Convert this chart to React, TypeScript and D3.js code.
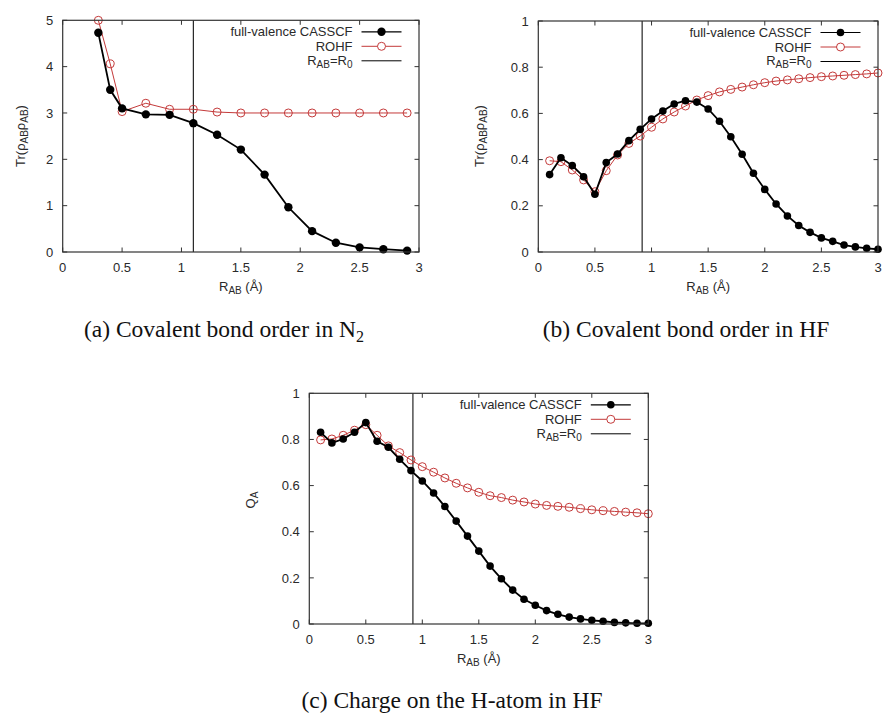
import React from 'react';
import * as d3 from 'd3';

const xTicks = [0, 0.5, 1, 1.5, 2, 2.5, 3];
const yTicksN2 = [0, 1, 2, 3, 4, 5];
const yTicksFrac = [0, 0.2, 0.4, 0.6, 0.8, 1];

const rN2 = [0.3, 0.4, 0.5, 0.7, 0.9, 1.1, 1.3, 1.5, 1.7, 1.9, 2.1, 2.3, 2.5, 2.7, 2.9];
const n2Casscf = [4.73, 3.5, 3.1, 2.97, 2.96, 2.78, 2.53, 2.21, 1.67, 0.965, 0.45, 0.2, 0.1, 0.06, 0.03];
const n2Rohf = [5.0, 4.06, 3.03, 3.21, 3.08, 3.08, 3.02, 3.0, 3.0, 3.0, 3.0, 3.0, 3.0, 3.0, 3.0];
const r0N2 = 1.1;

const rHF = [0.1, 0.2, 0.3, 0.4, 0.5, 0.6, 0.7, 0.8, 0.9, 1.0, 1.1, 1.2, 1.3, 1.4, 1.5, 1.6, 1.7, 1.8, 1.9, 2.0, 2.1, 2.2, 2.3, 2.4, 2.5, 2.6, 2.7, 2.8, 2.9, 3.0];
const hfBondCasscf = [0.335, 0.408, 0.374, 0.326, 0.25, 0.387, 0.424, 0.482, 0.531, 0.576, 0.61, 0.641, 0.655, 0.649, 0.619, 0.566, 0.499, 0.423, 0.341, 0.271, 0.208, 0.156, 0.115, 0.085, 0.061, 0.046, 0.03, 0.022, 0.016, 0.012];
const hfBondRohf = [0.395, 0.391, 0.355, 0.312, 0.261, 0.352, 0.42, 0.47, 0.502, 0.54, 0.576, 0.606, 0.632, 0.658, 0.677, 0.693, 0.704, 0.714, 0.724, 0.733, 0.74, 0.745, 0.75, 0.755, 0.759, 0.762, 0.765, 0.768, 0.771, 0.775];
const hfChargeCasscf = [0.831, 0.785, 0.802, 0.831, 0.873, 0.792, 0.766, 0.714, 0.665, 0.62, 0.568, 0.509, 0.446, 0.381, 0.316, 0.251, 0.196, 0.147, 0.107, 0.081, 0.058, 0.042, 0.03, 0.022, 0.016, 0.012, 0.007, 0.005, 0.003, 0.003];
const hfChargeRohf = [0.798, 0.802, 0.818, 0.84, 0.864, 0.818, 0.772, 0.743, 0.711, 0.682, 0.658, 0.633, 0.61, 0.59, 0.571, 0.556, 0.548, 0.537, 0.529, 0.52, 0.514, 0.51, 0.506, 0.5, 0.495, 0.491, 0.488, 0.485, 0.482, 0.478];
const r0HF = 0.917;

const legendLabels = ['full-valence CASSCF', 'ROHF'];

const SANS = '"Liberation Sans", Arial, Helvetica, sans-serif';
const SERIF = '"Liberation Serif", "Times New Roman", serif';
const TEXT = '#2a2a2a';
const FRAME = '#333';
const RED = '#c43a3a';

type PanelProps = {
  left: number; right: number; top: number; bottom: number;
  yMax: number; yTicks: number[];
  xs: number[]; cas: number[]; rohf: number[]; r0: number;
  yLabel: React.ReactNode; yLabelX: number; yLabelY: number;
  casR: number;
};

function Panel(p: PanelProps) {
  const x = d3.scaleLinear().domain([0, 3]).range([p.left, p.right]);
  const y = d3.scaleLinear().domain([0, p.yMax]).range([p.bottom, p.top]);
  const line = d3.line<number>().x((_, i) => x(p.xs[i])).y((d) => y(d));
  const tk = 4.5;
  const legRows = [p.top + 11.5, p.top + 26, p.top + 40.5];
  const lx1 = p.right - 57.5;
  const lx2 = p.right - 17.5;
  const lmid = (lx1 + lx2) / 2;
  const tx = p.right - 66.5;
  return (
    <g>
      {xTicks.map((t) => (
        <g key={'x' + t}>
          <line x1={x(t)} x2={x(t)} y1={p.bottom} y2={p.bottom - tk} stroke={FRAME} strokeWidth={1} />
          <line x1={x(t)} x2={x(t)} y1={p.top} y2={p.top + tk} stroke={FRAME} strokeWidth={1} />
          <text x={x(t)} y={p.bottom + 19.5} textAnchor="middle" fontFamily={SANS} fontSize={13} fill={TEXT}>{String(t)}</text>
        </g>
      ))}
      {p.yTicks.map((t) => (
        <g key={'y' + t}>
          <line x1={p.left} x2={p.left + tk} y1={y(t)} y2={y(t)} stroke={FRAME} strokeWidth={1} />
          <line x1={p.right} x2={p.right - tk} y1={y(t)} y2={y(t)} stroke={FRAME} strokeWidth={1} />
          <text x={p.left - 9.5} y={y(t)} dy="0.36em" textAnchor="end" fontFamily={SANS} fontSize={13} fill={TEXT}>{String(t)}</text>
        </g>
      ))}
      <line x1={x(p.r0)} x2={x(p.r0)} y1={p.top} y2={p.bottom} stroke="#111" strokeWidth={1.1} />
      <path d={line(p.rohf) || ''} fill="none" stroke={RED} strokeWidth={1} />
      {p.rohf.map((v, i) => (
        <circle key={'r' + i} cx={x(p.xs[i])} cy={y(v)} r={4} fill="none" stroke={RED} strokeWidth={1} />
      ))}
      <path d={line(p.cas) || ''} fill="none" stroke="#000" strokeWidth={1.8} />
      {p.cas.map((v, i) => (
        <circle key={'c' + i} cx={x(p.xs[i])} cy={y(v)} r={p.casR} fill="#000" />
      ))}
      <rect x={p.left} y={p.top} width={p.right - p.left} height={p.bottom - p.top} fill="none" stroke={FRAME} strokeWidth={1.2} />
      <text x={tx} y={legRows[0]} dy="0.36em" textAnchor="end" fontFamily={SANS} fontSize={13} fill={TEXT}>{legendLabels[0]}</text>
      <line x1={lx1} x2={lx2} y1={legRows[0]} y2={legRows[0]} stroke="#000" strokeWidth={1.2} />
      <circle cx={lmid} cy={legRows[0]} r={p.casR} fill="#000" />
      <text x={tx} y={legRows[1]} dy="0.36em" textAnchor="end" fontFamily={SANS} fontSize={13} fill={TEXT}>{legendLabels[1]}</text>
      <line x1={lx1} x2={lx2} y1={legRows[1]} y2={legRows[1]} stroke={RED} strokeWidth={1} />
      <circle cx={lmid} cy={legRows[1]} r={4} fill="#fff" stroke={RED} strokeWidth={1} />
      <text x={tx} y={legRows[2]} dy="0.3em" textAnchor="end" fontFamily={SANS} fontSize={13} fill={TEXT}>
        R<tspan dy={3} fontSize={10}>AB</tspan><tspan dy={-3}>=R</tspan><tspan dy={3} fontSize={10}>0</tspan>
      </text>
      <line x1={lx1} x2={lx2} y1={legRows[2]} y2={legRows[2]} stroke="#000" strokeWidth={1} />
      <text x={(p.left + p.right) / 2} y={p.bottom + 39} textAnchor="middle" fontFamily={SANS} fontSize={13} fill={TEXT}>
        R<tspan dy={3} fontSize={10}>AB</tspan><tspan dy={-3}> (Å)</tspan>
      </text>
      <text transform={`translate(${p.yLabelX},${p.yLabelY}) rotate(-90)`} textAnchor="middle" fontFamily={SANS} fontSize={13} fill={TEXT}>
        {p.yLabel}
      </text>
    </g>
  );
}

const trLabel = (
  <>
    Tr(ρ<tspan dy={3} fontSize={10}>AB</tspan><tspan dy={-3}>ρ</tspan><tspan dy={3} fontSize={10}>AB</tspan><tspan dy={-3}>)</tspan>
  </>
);
const qLabel = (
  <>
    Q<tspan dy={3} fontSize={10}>A</tspan>
  </>
);

export default function App() {
  return (
    <svg width={883} height={720} style={{ position: 'absolute', left: 0, top: 0, background: '#fff' }}>
      <rect x={0} y={0} width={883} height={720} fill="#fff" />
      <Panel left={62.7} right={419} top={20.3} bottom={252} yMax={5} yTicks={yTicksN2}
        xs={rN2} cas={n2Casscf} rohf={n2Rohf} r0={r0N2}
        yLabel={trLabel} yLabelX={25} yLabelY={136} casR={4.2} />
      <Panel left={538.3} right={878} top={21} bottom={252} yMax={1} yTicks={yTicksFrac}
        xs={rHF} cas={hfBondCasscf} rohf={hfBondRohf} r0={r0HF}
        yLabel={trLabel} yLabelX={483.5} yLabelY={136} casR={3.8} />
      <Panel left={309.3} right={648.3} top={393.3} bottom={624} yMax={1} yTicks={yTicksFrac}
        xs={rHF} cas={hfChargeCasscf} rohf={hfChargeRohf} r0={r0HF}
        yLabel={qLabel} yLabelX={255} yLabelY={500} casR={3.8} />
      <text x={224} y={337} textAnchor="middle" fontFamily={SERIF} fontSize={23.5} fill="#111">
        (a)  Covalent bond order in N<tspan dy={5} fontSize={16}>2</tspan>
      </text>
      <text x={686} y={337} textAnchor="middle" fontFamily={SERIF} fontSize={23.5} fill="#111">
        (b)  Covalent bond order in HF
      </text>
      <text x={452} y={708} textAnchor="middle" fontFamily={SERIF} fontSize={23.5} fill="#111">
        (c)  Charge on the H-atom in HF
      </text>
    </svg>
  );
}
